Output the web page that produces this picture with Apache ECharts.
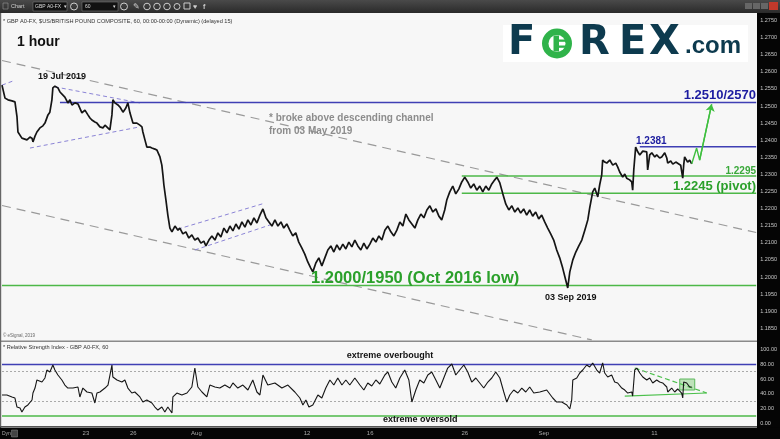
<!DOCTYPE html>
<html><head><meta charset="utf-8">
<script src="https://cdn.jsdelivr.net/npm/echarts@6/dist/echarts.min.js"></script>
<style>html,body{margin:0;padding:0;background:#fff;overflow:hidden}#c{width:780px;height:439px}</style>
</head><body><div id="c"></div>
<script>
// ---- DATA (x = trading-day index from 16 Jul 2019, hourly chart GBP/USD) ----
const priceData = [[-0.25,1.2561],[-0.06,1.2523],[0.13,1.2518],[0.38,1.2515],[0.57,1.2512],[0.70,1.2468],[0.76,1.2424],[1.01,1.2406],[1.33,1.2401],[1.52,1.2409],[1.65,1.2406],[1.71,1.2395],[1.84,1.2412],[1.96,1.2424],[2.15,1.2436],[2.34,1.2442],[2.47,1.2450],[2.66,1.2474],[2.78,1.2482],[2.91,1.2518],[2.97,1.2553],[3.10,1.2558],[3.29,1.2553],[3.42,1.2541],[3.54,1.2538],[3.73,1.2526],[3.92,1.2509],[4.05,1.2518],[4.18,1.2503],[4.37,1.2509],[4.56,1.2506],[4.68,1.2503],[4.81,1.2480],[5.00,1.2488],[5.19,1.2474],[5.32,1.2465],[5.44,1.2459],[5.63,1.2453],[5.76,1.2450],[5.95,1.2439],[6.14,1.2436],[6.27,1.2444],[6.39,1.2439],[6.58,1.2430],[6.71,1.2474],[6.77,1.2518],[6.90,1.2509],[7.09,1.2503],[7.22,1.2497],[7.41,1.2482],[7.59,1.2494],[7.72,1.2509],[7.85,1.2480],[8.04,1.2450],[8.29,1.2450],[8.48,1.2444],[8.61,1.2439],[8.67,1.2424],[8.80,1.2401],[8.92,1.2380],[9.11,1.2380],[9.24,1.2377],[9.43,1.2374],[9.56,1.2371],[9.75,1.2351],[9.87,1.2327],[9.94,1.2298],[10.00,1.2269],[10.13,1.2225],[10.25,1.2181],[10.38,1.2143],[10.51,1.2132],[10.70,1.2149],[10.89,1.2137],[11.01,1.2143],[11.20,1.2126],[11.39,1.2132],[11.58,1.2114],[11.77,1.2123],[11.96,1.2108],[12.15,1.2114],[12.34,1.2099],[12.53,1.2105],[12.66,1.2091],[12.85,1.2108],[13.04,1.2120],[13.23,1.2108],[13.42,1.2129],[13.61,1.2117],[13.80,1.2143],[13.99,1.2129],[14.18,1.2149],[14.37,1.2135],[14.56,1.2155],[14.75,1.2140],[14.94,1.2161],[15.13,1.2146],[15.32,1.2167],[15.51,1.2152],[15.70,1.2173],[15.89,1.2158],[16.08,1.2181],[16.27,1.2199],[16.46,1.2173],[16.65,1.2161],[16.84,1.2149],[17.03,1.2167],[17.22,1.2149],[17.41,1.2161],[17.59,1.2143],[17.78,1.2155],[17.97,1.2137],[18.16,1.2120],[18.35,1.2129],[18.54,1.2102],[18.73,1.2085],[18.92,1.2067],[19.11,1.2044],[19.30,1.2026],[19.43,1.2015],[19.62,1.2041],[19.81,1.2056],[20.00,1.2032],[20.19,1.2056],[20.38,1.2079],[20.57,1.2091],[20.76,1.2073],[20.95,1.2094],[21.14,1.2079],[21.33,1.2096],[21.52,1.2082],[21.71,1.2102],[21.90,1.2088],[22.09,1.2108],[22.28,1.2091],[22.47,1.2079],[22.66,1.2099],[22.85,1.2082],[23.04,1.2096],[23.23,1.2114],[23.42,1.2102],[23.61,1.2120],[23.80,1.2108],[23.99,1.2137],[24.18,1.2149],[24.37,1.2132],[24.56,1.2120],[24.75,1.2137],[24.94,1.2161],[25.13,1.2149],[25.32,1.2184],[25.51,1.2167],[25.70,1.2155],[25.89,1.2143],[26.08,1.2167],[26.27,1.2184],[26.46,1.2173],[26.65,1.2196],[26.84,1.2208],[27.03,1.2190],[27.22,1.2199],[27.41,1.2178],[27.59,1.2167],[27.78,1.2196],[27.91,1.2225],[28.10,1.2249],[28.29,1.2266],[28.48,1.2243],[28.67,1.2257],[28.86,1.2278],[29.05,1.2292],[29.24,1.2278],[29.43,1.2260],[29.62,1.2272],[29.81,1.2254],[30.00,1.2266],[30.19,1.2249],[30.38,1.2266],[30.57,1.2254],[30.76,1.2272],[30.95,1.2284],[31.08,1.2292],[31.27,1.2275],[31.46,1.2243],[31.65,1.2213],[31.84,1.2196],[32.03,1.2208],[32.22,1.2190],[32.41,1.2202],[32.59,1.2187],[32.78,1.2199],[32.97,1.2181],[33.16,1.2196],[33.35,1.2178],[33.54,1.2190],[33.73,1.2170],[33.92,1.2181],[34.11,1.2161],[34.30,1.2143],[34.49,1.2126],[34.68,1.2108],[34.87,1.2079],[35.06,1.2056],[35.25,1.2026],[35.44,1.1991],[35.57,1.1968],[35.70,1.2015],[35.89,1.2050],[36.08,1.2073],[36.27,1.2091],[36.46,1.2108],[36.65,1.2137],[36.84,1.2167],[36.96,1.2202],[37.15,1.2249],[37.28,1.2260],[37.47,1.2234],[37.59,1.2269],[37.72,1.2298],[37.78,1.2342],[37.91,1.2336],[38.04,1.2333],[38.23,1.2342],[38.42,1.2327],[38.61,1.2333],[38.73,1.2322],[38.86,1.2307],[39.05,1.2292],[39.18,1.2301],[39.30,1.2289],[39.49,1.2284],[39.62,1.2278],[39.68,1.2254],[39.75,1.2313],[39.87,1.2380],[40.00,1.2366],[40.13,1.2357],[40.32,1.2368],[40.57,1.2366],[40.63,1.2313],[40.76,1.2357],[40.89,1.2363],[41.08,1.2351],[41.20,1.2357],[41.39,1.2348],[41.52,1.2351],[41.71,1.2363],[41.84,1.2348],[41.90,1.2333],[42.09,1.2339],[42.22,1.2330],[42.41,1.2336],[42.53,1.2333],[42.72,1.2327],[42.85,1.2289],[42.91,1.2327],[42.97,1.2351],[43.16,1.2336],[43.29,1.2342],[43.42,1.2331]];
const projectionPath = [[43.42,1.2331],[43.73,1.2377],[43.92,1.2342],[44.68,1.2505]];
const lastPrice = 1.2331;
const upperChannel = [[-0.25,1.2633],[47.5,1.2130]];
const lowerChannel = [[-0.25,1.2209],[37.09,1.1816]];
const purpleSegments = [
  [[-0.25,1.2561],[0.44,1.2573]],
  [[3.10,1.2556],[8.48,1.2509]],
  [[1.52,1.2377],[8.48,1.2439]],
  [[10.89,1.2140],[16.39,1.2216]],
  [[11.96,1.2079],[16.71,1.2152]]
];
const blueLevels = [1.2510, 1.2381];
const blueLevelStarts = [3.42, 40.13];
const greenLevels = [1.2295, 1.2245, 1.1975];
const greenLevelStarts = [28.86, 28.86, -0.25];
const rangeEnd = 47.5;

const rsiData = [[-0.25,38.2],[0.06,38.2],[0.38,35.5],[0.57,34.1],[0.70,21.8],[0.89,20.5],[1.01,15.0],[1.20,21.8],[1.39,24.6],[1.65,31.4],[1.71,40.9],[1.84,47.7],[1.96,58.7],[2.28,55.9],[2.47,61.4],[2.59,72.3],[2.78,69.6],[2.97,79.1],[3.10,72.3],[3.29,65.5],[3.54,58.7],[3.73,51.8],[3.92,47.7],[4.24,47.7],[4.56,49.1],[4.68,35.5],[4.87,47.7],[5.13,42.3],[5.44,40.9],[5.63,27.3],[5.76,40.9],[5.95,42.3],[6.27,47.7],[6.46,51.8],[6.71,79.1],[6.77,62.8],[7.03,58.7],[7.34,55.9],[7.53,58.7],[7.72,47.7],[7.97,40.9],[8.16,42.3],[8.48,35.5],[8.67,28.6],[8.92,31.4],[9.24,27.3],[9.43,21.8],[9.62,17.7],[9.87,21.8],[10.06,15.0],[10.25,21.8],[10.51,13.6],[10.57,35.5],[10.82,40.9],[11.14,38.2],[11.46,40.9],[11.77,49.1],[11.96,75.0],[12.15,49.1],[12.41,42.3],[12.72,35.5],[12.78,40.9],[12.91,51.8],[13.23,49.1],[13.54,47.7],[13.86,51.8],[14.18,47.7],[14.37,54.6],[14.68,47.7],[15.00,51.8],[15.32,45.0],[15.63,58.7],[15.89,42.3],[16.08,38.2],[16.27,65.5],[16.58,51.8],[17.03,54.6],[17.47,47.7],[17.85,51.8],[18.29,42.3],[18.61,34.1],[18.80,24.6],[18.99,31.4],[19.18,21.8],[19.43,24.6],[19.75,38.2],[20.00,34.1],[20.25,47.7],[20.51,58.7],[20.76,51.8],[21.01,61.4],[21.27,51.8],[21.52,58.7],[21.77,51.8],[22.09,61.4],[22.41,51.8],[22.66,45.0],[22.91,54.6],[23.16,50.5],[23.42,58.7],[23.67,53.2],[23.99,65.5],[24.18,69.6],[24.43,55.9],[24.68,47.7],[24.94,61.4],[25.25,72.3],[25.51,58.7],[25.70,28.6],[25.95,45.0],[26.20,58.7],[26.46,54.6],[26.71,65.5],[26.96,69.6],[27.22,58.7],[27.47,47.7],[27.72,61.4],[27.97,75.0],[28.23,80.5],[28.48,65.5],[28.73,72.3],[28.99,79.1],[29.24,69.6],[29.49,55.9],[29.75,61.4],[30.00,54.6],[30.25,47.7],[30.51,55.9],[30.76,61.4],[31.01,69.6],[31.27,61.4],[31.52,42.3],[31.71,28.6],[31.90,38.2],[32.15,45.0],[32.41,40.9],[32.66,47.7],[32.91,42.3],[33.16,49.1],[33.42,40.9],[33.80,42.3],[34.24,45.0],[34.62,34.1],[34.87,28.6],[35.19,28.6],[35.51,24.6],[35.70,19.1],[35.82,31.4],[35.89,58.7],[36.14,61.4],[36.33,68.2],[36.52,72.3],[36.77,79.1],[36.96,76.4],[37.15,81.9],[37.41,72.3],[37.59,68.2],[37.78,81.9],[37.91,68.2],[38.10,62.8],[38.35,65.5],[38.54,55.9],[38.73,54.6],[38.99,47.7],[39.18,45.0],[39.37,40.9],[39.62,42.3],[39.68,36.8],[39.81,72.3],[39.94,75.0],[40.13,68.2],[40.32,62.8],[40.57,58.7],[40.76,61.4],[40.95,54.6],[41.20,58.7],[41.39,55.9],[41.58,54.6],[41.84,49.1],[41.90,42.3],[42.15,47.7],[42.34,42.3],[42.53,46.4],[42.78,40.9],[42.85,34.1],[42.91,55.9],[43.10,54.6],[43.29,49.1],[43.42,49.1]];
const lastRsi = 48.97;
const rsiOverbought = 80, rsiUpperDot = 70, rsiLowerDot = 30, rsiOversold = 10;
const rsiTriangleUpper = [[39.81,75.0],[44.37,40.9]];
const rsiTriangleLower = [[39.18,36.8],[44.37,40.9]];
const rsiBox = [[42.66,60],[43.61,45]];

const dateTickDays = [5, 8, 12, 19, 23, 29, 34, 41];
const dateTickLabels = ['23', '26', 'Aug', '12', '16', '26', 'Sep', '11'];

// ---- CHART ----
const chart = echarts.init(document.getElementById('c'), null, {renderer: 'canvas'});
const F = 'Arial, "Liberation Sans", sans-serif';
const LF = '"DejaVu Sans", Arial, sans-serif';
const GREEN = '#4db848', BLUE = '#3f3fb4', LOGO = '#0d3a4e', LOGO_G = '#2fb34a';

const xBase = {type: 'value', min: -0.25, max: rangeEnd, interval: 0.25, axisLine: {show: false}, axisTick: {show: false}, splitLine: {show: false}, axisLabel: {show: false}};

function seg(data, color, width, type, extra) {
  return Object.assign({type: 'line', data: data, symbol: 'none', silent: true, z: 4,
    lineStyle: {color: color, width: width, type: type}}, extra || {});
}

const series = [];
series.push(seg(upperChannel, '#9a9a9a', 1.2, [9, 6]));
series.push(seg(lowerChannel, '#9a9a9a', 1.2, [9, 6]));
purpleSegments.forEach(s => series.push(seg(s, '#8b84d6', 1, [4, 3])));
blueLevels.forEach((v, i) => series.push(seg([[blueLevelStarts[i], v], [rangeEnd, v]], BLUE, 1.5, 'solid')));
greenLevels.forEach((v, i) => series.push(seg([[greenLevelStarts[i], v], [rangeEnd, v]], GREEN, 1.5, 'solid')));
series.push({type: 'line', data: priceData, symbol: 'none', silent: true, z: 6,
  lineStyle: {color: '#151515', width: 1.7},
  markLine: {silent: true, symbol: 'none', lineStyle: {opacity: 0}, animation: false,
    data: [{yAxis: lastPrice}],
    label: {show: true, position: 'end', distance: 3, formatter: lastPrice.toFixed(4), color: '#ffffff', fontSize: 5.5, fontFamily: F}}
});
series.push({type: 'line', data: projectionPath, symbol: 'none', silent: true, z: 6,
  lineStyle: {color: '#3fbf3f', width: 1.4},
  markLine: {silent: true, symbol: ['none', 'arrow'], symbolSize: 7, animation: false, label: {show: false},
    lineStyle: {color: '#3fbf3f', width: 1.4, type: 'solid'},
    data: [[{coord: projectionPath[2]}, {coord: projectionPath[3]}]]}
});
// RSI
series.push({type: 'line', xAxisIndex: 1, yAxisIndex: 1, data: rsiData, symbol: 'none', silent: true, z: 6,
  lineStyle: {color: '#151515', width: 1.1},
  markLine: {silent: true, symbol: 'none', animation: false,
    data: [
      {yAxis: rsiOverbought, lineStyle: {color: BLUE, width: 1.4, type: 'solid'}, label: {show: false}},
      {yAxis: rsiUpperDot, lineStyle: {color: '#aaaaaa', width: 1, type: [2, 2]}, label: {show: false}},
      {yAxis: rsiLowerDot, lineStyle: {color: '#aaaaaa', width: 1, type: [2, 2]}, label: {show: false}},
      {yAxis: rsiOversold, lineStyle: {color: GREEN, width: 1.5, type: 'solid'}, label: {show: false}},
      {yAxis: lastRsi, lineStyle: {opacity: 0}, label: {show: true, position: 'end', distance: 3, formatter: lastRsi.toFixed(2), color: '#ffffff', fontSize: 5.5, fontFamily: F}}
    ]},
  markArea: {silent: true, itemStyle: {color: 'rgba(120,200,110,0.45)', borderColor: '#5cb85c', borderWidth: 1},
    data: [[{xAxis: rsiBox[0][0], yAxis: rsiBox[0][1]}, {xAxis: rsiBox[1][0], yAxis: rsiBox[1][1]}]]}
});
series.push(seg(rsiTriangleUpper, '#4cc04c', 1.2, [5, 3], {xAxisIndex: 1, yAxisIndex: 1}));
series.push(seg(rsiTriangleLower, '#4cc04c', 1.2, 'solid', {xAxisIndex: 1, yAxisIndex: 1}));
series.push({type: 'line', xAxisIndex: 2, yAxisIndex: 2, data: [], silent: true});

const T = (text, x, y, font, fill, align, extra) => Object.assign({type: 'text', z: 50, silent: true,
  style: {text: text, x: x, y: y, font: font, fill: fill, align: align || 'left', verticalAlign: 'middle'}}, extra || {});

const graphic = [
  // panel backgrounds
  {type: 'rect', z: 0, silent: true, shape: {x: 0, y: 13, width: 757, height: 328}, style: {fill: '#f7f7f7'}},
  {type: 'rect', z: 0, silent: true, shape: {x: 0, y: 342, width: 757, height: 85}, style: {fill: '#f7f7f7'}},
  {type: 'rect', z: 1, silent: true, shape: {x: 0, y: 340.5, width: 757, height: 1.5}, style: {fill: '#8a8a8a'}},
  {type: 'rect', z: 1, silent: true, shape: {x: 0, y: 13, width: 1.2, height: 415}, style: {fill: '#666'}},
  {type: 'rect', z: 1, silent: true, shape: {x: 0, y: 426, width: 757, height: 1}, style: {fill: '#555'}},
  // right axis & bottom bar
  {type: 'rect', z: 1, silent: true, shape: {x: 757, y: 13, width: 23, height: 415}, style: {fill: '#050505'}},
  {type: 'rect', z: 1, silent: true, shape: {x: 0, y: 427.5, width: 780, height: 12}, style: {fill: '#050505'}},
  T('Dyn', 2, 433.5, '5px ' + F, '#aaa'),
  {type: 'rect', z: 50, silent: true, shape: {x: 11.5, y: 430, width: 6, height: 7}, style: {fill: '#444', stroke: '#888', lineWidth: 0.5}},
  // logo
  {type: 'rect', z: 30, silent: true, shape: {x: 503, y: 25, width: 245, height: 37}, style: {fill: '#ffffff'}},
  T('F', 508, 44, 'bold 40px ' + LF, LOGO),
  {type: 'circle', z: 50, silent: true, shape: {cx: 557, cy: 43.5, r: 15}, style: {fill: LOGO_G}},
  {type: 'circle', z: 51, silent: true, shape: {cx: 557, cy: 43.5, r: 8.5}, style: {fill: '#ffffff'}},
  {type: 'rect', z: 52, silent: true, shape: {x: 553.5, y: 35.5, width: 5.5, height: 16}, style: {fill: LOGO_G}},
  {type: 'rect', z: 52, silent: true, shape: {x: 559, y: 39.5, width: 12, height: 2.3}, style: {fill: LOGO_G}},
  {type: 'rect', z: 52, silent: true, shape: {x: 559, y: 45.5, width: 12, height: 2.3}, style: {fill: LOGO_G}},
  T('R', 579, 44, 'bold 40px ' + LF, LOGO),
  T('E', 619, 44, 'bold 40px ' + LF, LOGO),
  T('X', 649, 44, 'bold 40px ' + LF, LOGO),
  T('.com', 685, 46, 'bold 24px ' + F, LOGO),
  // texts
  T('* GBP A0-FX, $US/BRITISH POUND COMPOSITE, 60, 00:00-00:00 (Dynamic) (delayed 15)', 3, 21, '5.6px ' + F, '#333'),
  T('1 hour', 17, 42, 'bold 14px ' + F, '#111'),
  T('19 Jul 2019', 38, 77, 'bold 9px ' + F, '#111'),
  T('* broke above descending channel', 269, 118, 'bold 10px ' + F, '#8c8c8c'),
  T('from 03 May 2019', 269, 131, 'bold 10px ' + F, '#8c8c8c'),
  T('1.2510/2570', 756, 95, 'bold 13px ' + F, '#1c1ca0', 'right'),
  T('1.2381', 636, 141.5, 'bold 10px ' + F, '#2020a0'),
  T('1.2295', 756, 171, 'bold 10px ' + F, '#3aa83a', 'right'),
  T('1.2245 (pivot)', 756, 186, 'bold 13px ' + F, '#2ba02b', 'right'),
  T('1.2000/1950 (Oct 2016 low)', 311, 278, 'bold 16.5px ' + F, '#2ba02b'),
  T('03 Sep 2019', 545, 298, 'bold 9px ' + F, '#111'),
  T('\u00a9 eSignal, 2019', 3, 336, '4.5px ' + F, '#666'),
  T('* Relative Strength Index - GBP A0-FX, 60', 3, 347, '5.6px ' + F, '#333'),
  T('extreme overbought', 390, 356, 'bold 9px ' + F, '#111', 'center'),
  T('extreme oversold', 383, 420, 'bold 9px ' + F, '#111'),
  // toolbar
  {type: 'rect', z: 60, silent: true, shape: {x: 0, y: 0, width: 780, height: 13},
    style: {fill: new echarts.graphic.LinearGradient(0, 0, 0, 1, [{offset: 0, color: '#4a4a4a'}, {offset: 1, color: '#2a2a2a'}])}},
  {type: 'rect', z: 61, silent: true, shape: {x: 3, y: 3, width: 5, height: 6}, style: {fill: 'none', stroke: '#999', lineWidth: 0.6}},
  T('Chart', 11, 6.8, '5.5px ' + F, '#cfcfcf', 'left', {z: 62}),
  {type: 'rect', z: 61, silent: true, shape: {x: 33, y: 2, width: 34, height: 9}, style: {fill: '#111', stroke: '#777', lineWidth: 0.6}},
  T('GBP A0-FX', 35, 6.8, '5px ' + F, '#ddd', 'left', {z: 62}),
  T('\u25be', 64, 6.8, '5px ' + F, '#ddd', 'left', {z: 62}),
  {type: 'circle', z: 61, silent: true, shape: {cx: 74, cy: 6.5, r: 3.5}, style: {fill: 'none', stroke: '#ccc', lineWidth: 1}},
  {type: 'rect', z: 61, silent: true, shape: {x: 82, y: 2, width: 36, height: 9}, style: {fill: '#111', stroke: '#777', lineWidth: 0.6}},
  T('60', 85, 6.8, '5px ' + F, '#ddd', 'left', {z: 62}),
  T('\u25be', 113, 6.8, '5px ' + F, '#ddd', 'left', {z: 62}),
  {type: 'circle', z: 61, silent: true, shape: {cx: 124, cy: 6.5, r: 3.5}, style: {fill: 'none', stroke: '#ccc', lineWidth: 1}},
  T('\u270e', 133, 6.8, '8px ' + F, '#ccc', 'left', {z: 62}),
  {type: 'circle', z: 61, silent: true, shape: {cx: 147, cy: 6.5, r: 3.3}, style: {fill: 'none', stroke: '#ccc', lineWidth: 1}},
  {type: 'circle', z: 61, silent: true, shape: {cx: 157, cy: 6.5, r: 3.3}, style: {fill: 'none', stroke: '#ccc', lineWidth: 1}},
  {type: 'circle', z: 61, silent: true, shape: {cx: 167, cy: 6.5, r: 3.3}, style: {fill: 'none', stroke: '#ccc', lineWidth: 1}},
  {type: 'circle', z: 61, silent: true, shape: {cx: 177, cy: 6.5, r: 3}, style: {fill: 'none', stroke: '#ccc', lineWidth: 1}},
  {type: 'rect', z: 61, silent: true, shape: {x: 184, y: 3, width: 6, height: 6}, style: {fill: 'none', stroke: '#ccc', lineWidth: 1}},
  T('\u2665', 193, 6.8, '7px ' + F, '#ccc', 'left', {z: 62}),
  T('f', 203, 6.8, 'bold 7px ' + F, '#ccc', 'left', {z: 62}),
  {type: 'rect', z: 61, silent: true, shape: {x: 745, y: 3, width: 7, height: 6}, style: {fill: '#666'}},
  {type: 'rect', z: 61, silent: true, shape: {x: 753, y: 3, width: 7, height: 6}, style: {fill: '#666'}},
  {type: 'rect', z: 61, silent: true, shape: {x: 761, y: 3, width: 7, height: 6}, style: {fill: '#666'}},
  {type: 'rect', z: 61, silent: true, shape: {x: 769, y: 2, width: 9, height: 8}, style: {fill: '#c0392b'}}
];

const option = {
  animation: false,
  backgroundColor: '#ffffff',
  grid: [
    {left: 2, right: 23, top: 3.4, height: 342},
    {left: 2, right: 23, top: 335.04, height: 102.62},
    {left: 2, right: 23, top: 426, height: 1}
  ],
  xAxis: [
    Object.assign({gridIndex: 0}, xBase),
    Object.assign({gridIndex: 1}, xBase),
    Object.assign({}, xBase, {gridIndex: 2, position: 'bottom', z: 20,
      axisLabel: {show: true, margin: 3, fontSize: 6, color: '#a8a8a8', fontFamily: F,
        formatter: v => { const i = dateTickDays.findIndex(d => Math.abs(d - v) < 1e-6); return i >= 0 ? dateTickLabels[i] : ''; }}})
  ],
  yAxis: [
    {gridIndex: 0, type: 'value', position: 'right', min: 1.18, max: 1.28, interval: 0.005, z: 20,
      axisLine: {show: false}, axisTick: {show: false}, splitLine: {show: false},
      axisLabel: {margin: 4, fontSize: 5.5, color: '#c8c8c8', fontFamily: F, showMinLabel: false, showMaxLabel: false,
        formatter: v => (v < 1.1825 || v > 1.2775) ? '' : v.toFixed(4)}},
    {gridIndex: 1, type: 'value', position: 'right', min: -20, max: 120, interval: 20, z: 20,
      axisLine: {show: false}, axisTick: {show: false}, splitLine: {show: false},
      axisLabel: {margin: 4, fontSize: 5.5, color: '#c8c8c8', fontFamily: F,
        formatter: v => (v < 0 || v > 100) ? '' : v.toFixed(2)}},
    {gridIndex: 2, type: 'value', show: false}
  ],
  graphic: graphic,
  series: series
};
chart.setOption(option);
</script>
</body></html>
